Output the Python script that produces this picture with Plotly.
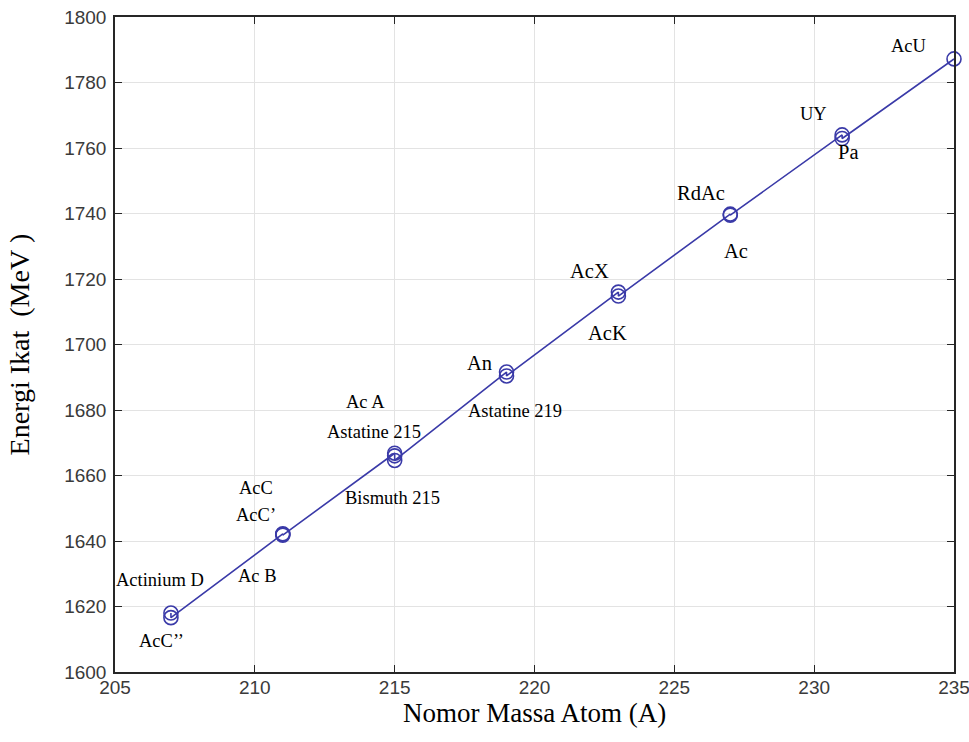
import plotly.graph_objects as go

# Data
nuclide = ["Actinium D", "AcC’’", "AcC", "AcC’", "Ac B", "Ac A", "Astatine 215",
           "Bismuth 215", "An", "Astatine 219", "AcX", "AcK", "RdAc", "Ac",
           "UY", "Pa", "AcU"]
mass_number = [207, 207, 211, 211, 211, 215, 215, 215, 219, 219, 223, 223,
               227, 227, 231, 231, 235]
binding_energy = [1618.0, 1616.6, 1642.2, 1642.0, 1641.8, 1666.8, 1666.0,
                  1664.6, 1691.6, 1690.4, 1716.0, 1714.8, 1739.8, 1739.5,
                  1764.0, 1762.9, 1787.2]

x_ticks = [205, 210, 215, 220, 225, 230, 235]
y_ticks = [1600, 1620, 1640, 1660, 1680, 1700, 1720, 1740, 1760, 1780, 1800]

x_title = "Nomor Massa Atom (A)"
y_title = "Energi Ikat\u00a0\u00a0(MeV\u00a0)"

# label text, x, y (data coordinates), font size
labels = [
    ("Actinium D", 206.61, 1628.1, 18.5),
    ("AcC’’", 206.65, 1609.5, 18.5),
    ("Ac B", 210.08, 1629.3, 18.5),
    ("AcC", 210.05, 1656.2, 18.5),
    ("AcC’", 210.05, 1647.9, 18.5),
    ("Ac A", 213.95, 1682.4, 18.5),
    ("Astatine 215", 214.27, 1673.3, 18.5),
    ("Bismuth 215", 214.92, 1653.1, 18.5),
    ("An", 218.03, 1694.4, 20.5),
    ("Astatine 219", 219.29, 1679.7, 18.5),
    ("AcX", 221.97, 1722.4, 20.5),
    ("AcK", 222.62, 1703.5, 20.5),
    ("RdAc", 225.95, 1746.3, 20.5),
    ("Ac", 227.20, 1728.5, 20.5),
    ("UY", 229.99, 1770.4, 18.5),
    ("Pa", 231.24, 1758.8, 20.5),
    ("AcU", 233.39, 1791.1, 18.5),
]

serif = "Liberation Serif, Times New Roman, serif"

fig = go.Figure()
fig.add_trace(go.Scatter(
    x=mass_number, y=binding_energy, mode="lines+markers",
    line=dict(color="#3a3aa8", width=1.6),
    marker=dict(symbol="circle-open", size=14, color="#3a3aa8",
                line=dict(width=1.6, color="#3a3aa8")),
    text=nuclide, showlegend=False, cliponaxis=False,
))

for txt, lx, ly, fs in labels:
    fig.add_annotation(x=lx, y=ly, text=txt, showarrow=False,
                       font=dict(family=serif, size=fs, color="black"))

# x-axis title placed just under the tick labels
fig.add_annotation(x=0.5, y=0, xref="paper", yref="paper", text=x_title,
                   showarrow=False, yanchor="top", yshift=-24,
                   font=dict(family=serif, size=27, color="black"))

axis_common = dict(
    showgrid=True, gridcolor="#e3e3e3", gridwidth=1,
    showline=True, linecolor="#262626", linewidth=1.5, mirror="ticks",
    ticks="inside", ticklen=7, tickcolor="#262626",
    zeroline=False, automargin=False, ticklabeloverflow="allow",
    tickfont=dict(family="Liberation Sans, Arial, sans-serif", size=19, color="#3a3a3a"),
    title_font=dict(family=serif, size=28, color="black"),
)

fig.update_xaxes(range=[205, 235], tickvals=x_ticks, ticklabelstandoff=-3, **axis_common)
fig.update_yaxes(range=[1600, 1800], tickvals=y_ticks, title_text=y_title,
                 title_standoff=26, ticklabelstandoff=3, **axis_common)

fig.update_layout(
    width=969, height=742,
    margin=dict(l=115, r=15, t=17, b=70),
    paper_bgcolor="white", plot_bgcolor="white",
)

fig.write_html("out.html", config={"displayModeBar": False},
               post_script="document.body.style.margin='0px';")
